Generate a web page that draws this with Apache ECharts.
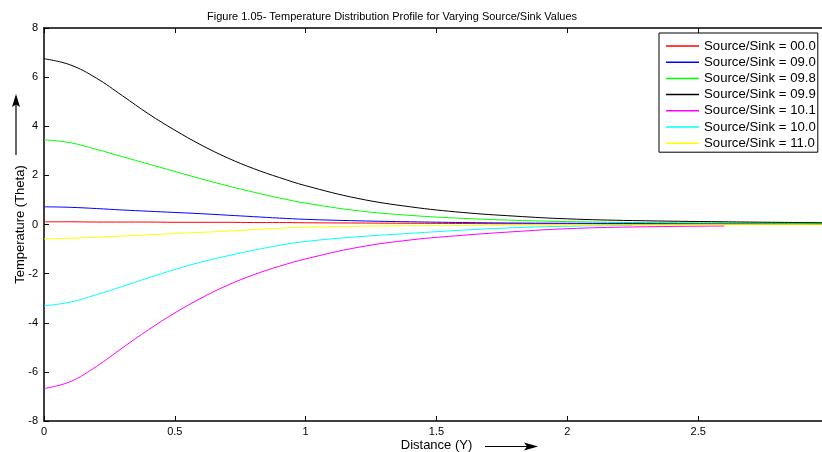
<!DOCTYPE html>
<html>
<head>
<meta charset="utf-8">
<script src="https://cdn.jsdelivr.net/npm/echarts@6/dist/echarts.min.js"></script>
<style>html,body{margin:0;padding:0;background:#fff;}#c{width:822px;height:452px;}</style>
</head>
<body>
<div id="c"></div>
<script>
// Distance (Y) sample positions
const distance = [0, 0.1, 0.2, 0.3, 0.4, 0.5, 0.6, 0.7, 0.8, 0.9, 1.0, 1.2, 1.4, 1.6, 1.8, 2.0, 2.25, 2.6, 3.0];
const seriesNames = ['Source/Sink = 00.0','Source/Sink = 09.0','Source/Sink = 09.8','Source/Sink = 09.9','Source/Sink = 10.1','Source/Sink = 10.0','Source/Sink = 11.0'];
const theta00_0 = [0.11, 0.11, 0.10, 0.10, 0.10, 0.09, 0.09, 0.09, 0.08, 0.08, 0.07, 0.06, 0.05, 0.04, 0.03, 0.03, 0.02, 0.02, 0.01];
const theta09_0 = [0.72, 0.70, 0.65, 0.59, 0.54, 0.49, 0.44, 0.38, 0.32, 0.26, 0.21, 0.15, 0.11, 0.08, 0.06, 0.05, 0.04, 0.03, 0.02];
const theta09_8 = [3.45, 3.33, 3.06, 2.76, 2.46, 2.16, 1.86, 1.58, 1.32, 1.08, 0.87, 0.56, 0.37, 0.25, 0.17, 0.12, 0.08, 0.06, 0.04];
const theta09_9 = [6.75, 6.50, 5.96, 5.24, 4.50, 3.84, 3.24, 2.72, 2.28, 1.91, 1.58, 1.06, 0.72, 0.49, 0.34, 0.23, 0.16, 0.11, 0.07];
const theta10_1 = [-6.68, -6.40, -5.78, -5.02, -4.28, -3.60, -3.00, -2.48, -2.05, -1.70, -1.40, -0.93, -0.63, -0.44, -0.29, -0.17, -0.10, -0.06];
const theta10_0 = [-3.31, -3.16, -2.86, -2.52, -2.17, -1.83, -1.53, -1.28, -1.05, -0.85, -0.69, -0.50, -0.36, -0.23, -0.13, -0.07, -0.04];
const theta11_0 = [-0.58, -0.56, -0.52, -0.47, -0.42, -0.37, -0.32, -0.27, -0.21, -0.15, -0.11, -0.07, -0.05, -0.04, -0.03, -0.02, -0.02, -0.01, -0.01];
const seriesValues = [theta00_0, theta09_0, theta09_8, theta09_9, theta10_1, theta10_0, theta11_0];
const seriesColors = ['#ff0000', '#0000ff', '#00ff00', '#000000', '#ff00ff', '#00ffff', '#ffff00'];
const yTicks = [-8, -6, -4, -2, 0, 2, 4, 6, 8];
const xTicks = [0, 0.5, 1, 1.5, 2, 2.5, 3];

const FONT = 'Liberation Sans, Arial, sans-serif';
const chart = echarts.init(document.getElementById('c'));

const series = seriesNames.map((name, i) => ({
  name: name,
  type: 'line',
  data: seriesValues[i].map((v, j) => [distance[j], v]),
  showSymbol: false,
  symbol: 'none',
  smooth: 0.4,
  lineStyle: { color: seriesColors[i], width: 1 },
  itemStyle: { color: seriesColors[i] },
  animation: false,
  z: 2
}));

chart.setOption({
  animation: false,
  backgroundColor: '#ffffff',
  title: {
    text: 'Figure 1.05- Temperature Distribution Profile for Varying Source/Sink Values',
    left: 202, top: 6,
    textStyle: { fontFamily: FONT, fontSize: 11, fontWeight: 'normal', color: '#000' }
  },
  legend: {
    data: seriesNames,
    orient: 'vertical',
    left: 659, top: 33,
    padding: [6, 2, 2, 7],
    itemGap: 2.2,
    itemWidth: 33, itemHeight: 1.5,
    icon: 'rect',
    backgroundColor: '#fff',
    borderColor: '#000', borderWidth: 1,
    textStyle: { fontFamily: FONT, fontSize: 13.2, color: '#000', lineHeight: 14 },
    selectedMode: false
  },
  grid: { left: 44, top: 28, right: -7, bottom: 31, show: false, outerBoundsMode: 'none', containLabel: false },
  xAxis: [{
    type: 'value', min: xTicks[0], max: xTicks[xTicks.length - 1], interval: 0.5,
    position: 'bottom',
    name: 'Distance (Y)', nameLocation: 'middle', nameGap: 18, nameMoveOverlap: false,
    nameTextStyle: { fontFamily: FONT, fontSize: 13, color: '#000' },
    axisLine: { onZero: false, lineStyle: { color: '#000', width: 1.5 } },
    axisTick: { inside: true, length: 5, lineStyle: { color: '#000' } },
    axisLabel: { fontFamily: FONT, fontSize: 11, color: '#000', margin: 5, showMaxLabel: false },
    splitLine: { show: false }
  }, {
    type: 'value', min: xTicks[0], max: xTicks[xTicks.length - 1], interval: 0.5,
    position: 'top',
    axisLine: { onZero: false, lineStyle: { color: '#000', width: 1.5 } },
    axisTick: { inside: true, length: 5, lineStyle: { color: '#000' } },
    axisLabel: { show: false },
    splitLine: { show: false }
  }],
  yAxis: [{
    type: 'value', min: yTicks[0], max: yTicks[yTicks.length - 1], interval: 2,
    name: 'Temperature (Theta)', nameLocation: 'middle', nameGap: 17, nameMoveOverlap: false,
    nameTextStyle: { fontFamily: FONT, fontSize: 13, color: '#000' },
    axisLine: { show: true, onZero: false, lineStyle: { color: '#000', width: 1.5 } },
    axisTick: { show: true, inside: true, length: 5, lineStyle: { color: '#000' } },
    axisLabel: { fontFamily: FONT, fontSize: 11, color: '#000', margin: 6 },
    splitLine: { show: false }
  }],
  graphic: [
    { type: 'line', shape: { x1: 16, y1: 155, x2: 16, y2: 102 }, style: { stroke: '#000', lineWidth: 1.2 } },
    { type: 'polygon', shape: { points: [[16, 94], [12, 107], [16, 104.5], [20, 107]] }, style: { fill: '#000' } },
    { type: 'line', shape: { x1: 485, y1: 446.5, x2: 530, y2: 446.5 }, style: { stroke: '#000', lineWidth: 1.2 } },
    { type: 'polygon', shape: { points: [[538, 446.5], [524, 442.5], [527, 446.5], [524, 450.5]] }, style: { fill: '#000' } }
  ],
  series: series
});
</script>
</body>
</html>
